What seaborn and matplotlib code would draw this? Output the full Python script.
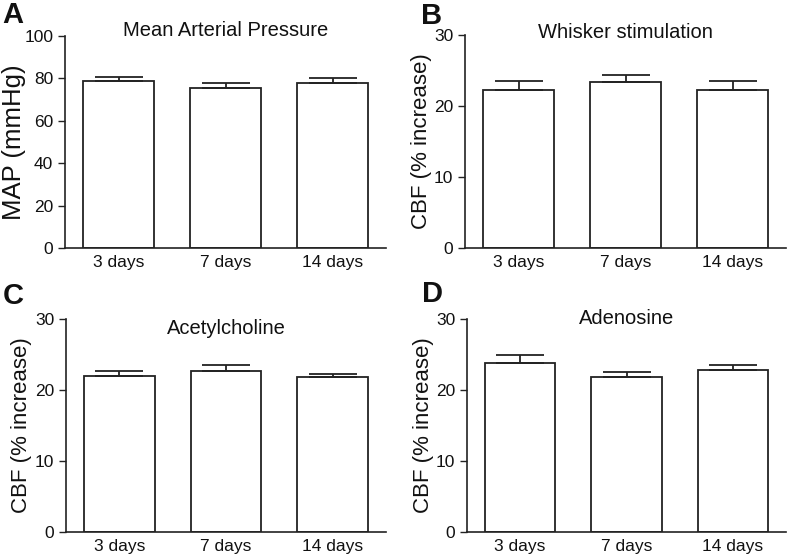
import numpy as np
import pandas as pd
import seaborn as sns
import matplotlib
matplotlib.use("Agg")
import matplotlib.pyplot as plt

# values (mean, upper SEM)
days = ["3 days", "7 days", "14 days"]
map_mean = [79.0, 75.4, 77.6]
map_sem = [1.6, 2.2, 2.5]
whisker_mean = [22.2, 23.4, 22.2]
whisker_sem = [1.3, 1.0, 1.3]
ach_mean = [22.0, 22.7, 21.9]
ach_sem = [0.7, 0.8, 0.3]
ado_mean = [23.8, 21.9, 22.8]
ado_sem = [1.2, 0.7, 0.7]

sns.set_theme(style="ticks")
plt.rcParams['font.family'] = ['Liberation Sans', 'DejaVu Sans']
plt.rcParams['text.color'] = '#111111'
plt.rcParams['axes.labelcolor'] = '#111111'
plt.rcParams['xtick.color'] = '#111111'
plt.rcParams['ytick.color'] = '#111111'

fig = plt.figure(figsize=(7.9, 5.55), dpi=100)

panels = [
    # letter, title, ylabel, label size, mean, sem, ymax, yticks, axes rect, title y, ylabel x
    ("A", "Mean Arterial Pressure", "MAP (mmHg)", 18.5, map_mean, map_sem, 100, [0, 20, 40, 60, 80, 100],
     [65 / 790, 1 - 248 / 555, 321 / 790, 212 / 555], 1.025, -0.12),
    ("B", "Whisker stimulation", "CBF (% increase)", 16, whisker_mean, whisker_sem, 30, [0, 10, 20, 30],
     [465 / 790, 1 - 248 / 555, 321 / 790, 213 / 555], 1.012, -0.102),
    ("C", "Acetylcholine", "CBF (% increase)", 16, ach_mean, ach_sem, 30, [0, 10, 20, 30],
     [66 / 790, 1 - 532 / 555, 320 / 790, 213 / 555], 0.955, -0.105),
    ("D", "Adenosine", "CBF (% increase)", 16, ado_mean, ado_sem, 30, [0, 10, 20, 30],
     [467 / 790, 1 - 532 / 555, 319 / 790, 213 / 555], 1.0, -0.102),
]

letter_pos = {"A": (13, 15), "B": (432, 16), "C": (13, 296), "D": (432, 294)}

for letter, title, ylabel, lsize, mean, sem, ymax, yticks, rect, ty, lx_ax in panels:
    ax = fig.add_axes(rect)
    df = pd.DataFrame({"day": days, "value": mean})
    sns.barplot(data=df, x="day", y="value", ax=ax, color="white",
                edgecolor="#222222", linewidth=1.3, width=0.66, errorbar=None)
    x = np.arange(len(days))
    ax.errorbar(x, mean, yerr=[np.zeros(len(sem)), sem], fmt="none",
                ecolor="#222222", elinewidth=1.3, capsize=17, capthick=1.3)
    ax.set_xlim(-0.5, len(days) - 0.5)
    ax.set_ylim(0, ymax)
    ax.set_yticks(yticks)
    ax.set_xlabel("")
    ax.set_ylabel(ylabel, fontsize=lsize)
    ax.yaxis.set_label_coords(lx_ax, 0.5)
    ax.tick_params(axis="x", length=0, labelsize=12.5, pad=5)
    ax.tick_params(axis="y", length=5, width=1, labelsize=12.5, color="#222222")
    for s in ["top", "right"]:
        ax.spines[s].set_visible(False)
    for s in ["left", "bottom"]:
        ax.spines[s].set_linewidth(1.2)
        ax.spines[s].set_color("#222222")
    ax.text(0.5, ty, title, transform=ax.transAxes, ha="center", va="center", fontsize=14.5)
    lx, ly = letter_pos[letter]
    fig.text(lx / 790, 1 - ly / 555, letter, fontsize=21, fontweight="bold",
             ha="center", va="center")

fig.savefig("out.png", dpi=100)
